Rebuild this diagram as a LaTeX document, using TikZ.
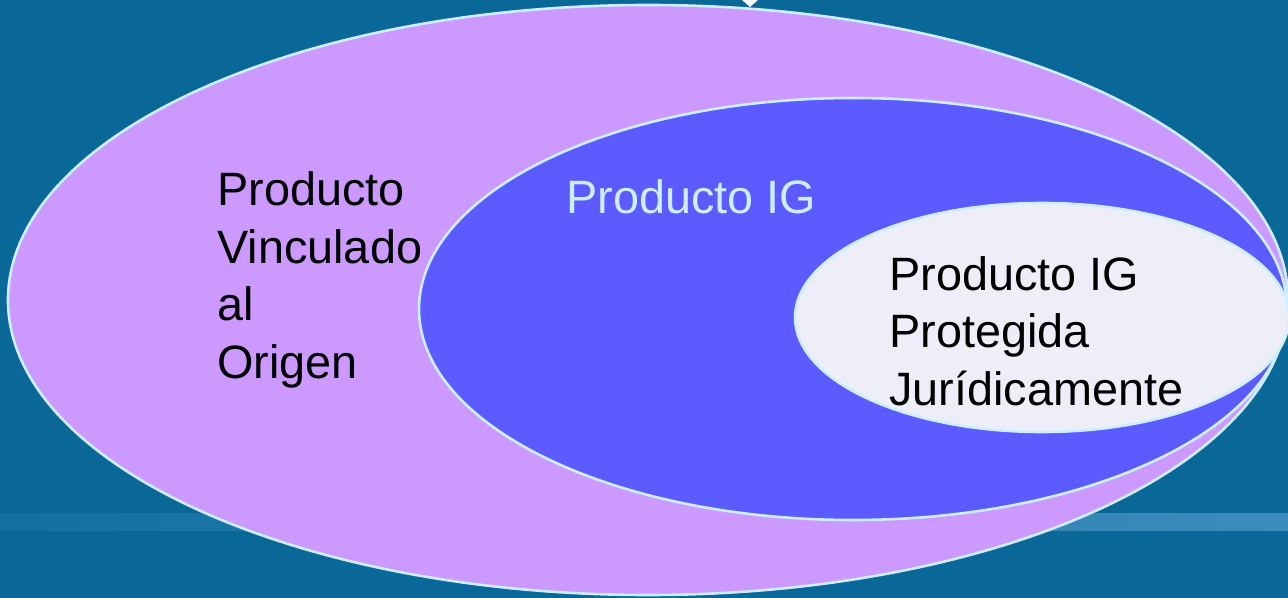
\documentclass[tikz,border=0pt]{standalone}
\usepackage{fontspec}
\setmainfont{Liberation Sans}
\usetikzlibrary{shapes.geometric}
\definecolor{fondo}{HTML}{0A6898}
\definecolor{franjaA}{HTML}{1270A0}
\definecolor{franjaB}{HTML}{3C8CBB}
\definecolor{lila}{HTML}{CC99FF}
\definecolor{azul}{HTML}{5B5BFF}
\definecolor{claro}{HTML}{EEEEF8}
\definecolor{borde}{HTML}{CCEEFF}
\begin{document}
\begin{tikzpicture}[x=0.5pt,y=-0.5pt,
  zona/.style={ellipse, draw=borde, line width=1.3pt, inner sep=0pt},
  rotulo/.style={anchor=base west, inner sep=0pt, align=left,
    font=\fontsize{23.4}{28.75}\selectfont}]
\useasboundingbox (0,0) rectangle (1288,598);
\fill[fondo] (0,0) rectangle (1288,598);
\shade[left color=franjaA, right color=franjaB] (0,513) rectangle (1288,530);
\node[zona, fill=lila, minimum width=640pt, minimum height=295pt] (vinculado) at (648,300){};
\node[zona, fill=azul, minimum width=434pt, minimum height=211pt] (ig) at (853,309){};
\node[zona, fill=claro, minimum width=247pt, minimum height=114.5pt] (protegida) at (1042,317.5){};
\fill[white] (742,0) -- (758,0) -- (750,7) -- cycle;
% base = ultima linea
\node[rotulo] (tvinculado) at (217,378){Producto\\Vinculado\\al\\Origen};
\node[rotulo, text=borde] (tig) at (566,214){Producto IG};
\node[rotulo] (tprotegida) at (889,405){Producto IG\\Protegida\\Jurídicamente};

\end{tikzpicture}
\end{document}
